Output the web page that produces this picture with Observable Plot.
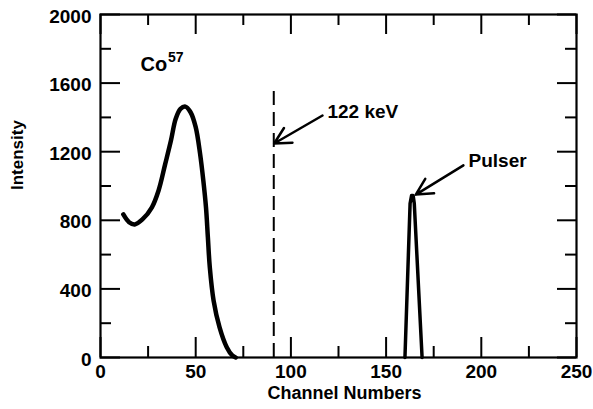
<!DOCTYPE html>
<html>
<head>
<meta charset="utf-8">
<script src="https://cdn.jsdelivr.net/npm/d3@7"></script>
<script src="https://cdn.jsdelivr.net/npm/@observablehq/plot@0.6"></script>
<style>
  html, body { margin: 0; padding: 0; background: #fff; }
  #chart svg { display: block; }
</style>
</head>
<body>
<div id="chart"></div>
<script>
// Co57 spectrum (channel, intensity)
const co57Channel   = [12, 15, 18, 22, 27, 30.5, 34, 37, 39.5, 42, 44.6, 47.3, 50, 52.3, 54, 55.4, 56.4, 57.4, 59.4, 62.5, 66.3, 69.2, 71];
const co57Intensity = [834, 789, 776, 805, 876, 974, 1129, 1265, 1392, 1450, 1463, 1430, 1343, 1188, 1032, 876, 700, 527, 332, 177, 60, 12, 0];

// Pulser peak
const pulserChannel   = [159.9, 162.6, 163.4, 164.2, 164.8, 168.9];
const pulserIntensity = [0, 898, 945, 945, 898, 0];

// 122 keV marker
const markerChannel = 91;
const markerTop = 1580;

// Ticks
const xMajor = [0, 50, 100, 150, 200, 250];
const xMinor = [25, 75, 125, 175, 225];
const yMajor = [0, 400, 800, 1200, 1600, 2000];
const yMinor = [200, 600, 1000, 1400, 1800];

// Annotations
const annotations = [
  {label: "122 keV", x: 119.2, y: 1431, x1: 116.6, y1: 1411, x2: 91.2, y2: 1248},
  {label: "Pulser",  x: 193.3, y: 1149, x1: 190.6, y1: 1120, x2: 165.6, y2: 950}
];
const co57Label = {text: "Co", sup: "57", x: 21, y: 1706, supX: 35.4, supY: 1752};

const xLabel = "Channel Numbers";
const yLabel = "Intensity";

const co57 = co57Channel.map((c, i) => ({c, v: co57Intensity[i]}));
const pulser = pulserChannel.map((c, i) => ({c, v: pulserIntensity[i]}));

const W = 593, H = 409;
const mL = 100, mR = 17, mT = 14, mB = 52;
const innerW = W - mL - mR, innerH = H - mT - mB;
const font = "'Liberation Sans', Arial, Helvetica, sans-serif";

const chart = Plot.plot({
  width: W,
  height: H,
  marginLeft: mL,
  marginRight: mR,
  marginTop: mT,
  marginBottom: mB,
  style: {fontFamily: font, background: "#fff", color: "#000"},
  x: {domain: [0, 250]},
  y: {domain: [0, 2000]},
  marks: [
    Plot.axisX({ticks: xMajor, tickSize: 0, tickPadding: 7, tickFormat: d => String(d), fontSize: 19, fontWeight: "bold", label: null}),
    Plot.axisY({ticks: yMajor, tickSize: 0, tickPadding: 9, tickFormat: d => String(d), fontSize: 19, fontWeight: "bold", dy: 2, label: null}),
    // inward ticks: bottom / top
    Plot.tickX(xMajor, {x: d => d, insetTop: innerH - 20, strokeWidth: 2}),
    Plot.tickX(xMinor, {x: d => d, insetTop: innerH - 11, strokeWidth: 2}),
    Plot.tickX(xMajor, {x: d => d, insetBottom: innerH - 20, strokeWidth: 2}),
    Plot.tickX(xMinor, {x: d => d, insetBottom: innerH - 11, strokeWidth: 2}),
    // inward ticks: left / right
    Plot.tickY(yMajor, {y: d => d, insetRight: innerW - 20, strokeWidth: 2}),
    Plot.tickY(yMinor, {y: d => d, insetRight: innerW - 11, strokeWidth: 2}),
    Plot.tickY(yMajor, {y: d => d, insetLeft: innerW - 19, strokeWidth: 2}),
    Plot.tickY(yMinor, {y: d => d, insetLeft: innerW - 11, strokeWidth: 2}),
    Plot.frame({stroke: "#000", strokeWidth: 2.2}),
    // data
    Plot.ruleX([markerChannel], {x: d => d, y1: 0, y2: markerTop, stroke: "#000", strokeWidth: 2, strokeDasharray: "14,7"}),
    Plot.line(co57, {x: "c", y: "v", stroke: "#000", strokeWidth: 4.5, curve: "catmull-rom", strokeLinecap: "round"}),
    Plot.line(pulser, {x: "c", y: "v", stroke: "#000", strokeWidth: 3.5, curve: "linear", strokeLinejoin: "round"}),
    // annotations
    Plot.arrow(annotations, {x1: "x1", y1: "y1", x2: "x2", y2: "y2", stroke: "#000", strokeWidth: 2.5, headLength: 11, headAngle: 55}),
    Plot.text(annotations, {x: "x", y: "y", text: "label", textAnchor: "start", fontSize: 19, fontWeight: "bold", fill: "#000"}),
    Plot.text([co57Label], {x: "x", y: "y", text: "text", textAnchor: "start", fontSize: 20, fontWeight: "bold", fill: "#000"}),
    Plot.text([co57Label], {x: "supX", y: "supY", text: "sup", textAnchor: "start", fontSize: 14, fontWeight: "bold", fill: "#000"}),
    // axis titles
    Plot.text([xLabel], {frameAnchor: "bottom", text: d => d, dx: 6, dy: 41, fontSize: 18, fontWeight: "bold", fill: "#000"}),
    Plot.text([yLabel], {frameAnchor: "left", text: d => d, rotate: -90, dx: -83, dy: 4, fontSize: 17, fontWeight: "bold", fill: "#000"})
  ]
});
document.getElementById("chart").appendChild(chart);
</script>
</body>
</html>
